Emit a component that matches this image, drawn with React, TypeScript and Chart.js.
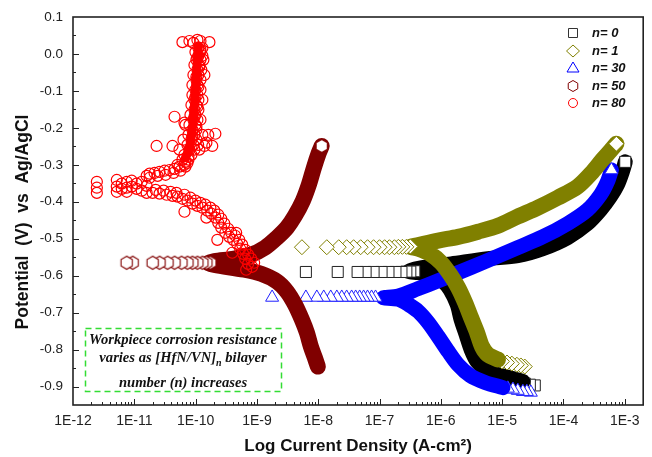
import { useEffect, useRef } from 'react';
import { Chart, registerables } from 'chart.js';
Chart.register(...registerables);

type Pt = [number, number];

// ---------------- data (current density A/cm2, potential V) ----------------
const seriesLabels = ['n= 0', 'n= 1', 'n= 30', 'n= 50', 'n= 80'];
const seriesColors = ['#000000', '#808000', '#0000ff', '#800000', '#ff0000'];
const xTickLabels = ['1E-12', '1E-11', '1E-10', '1E-9', '1E-8', '1E-7', '1E-6', '1E-5', '1E-4', '1E-3'];
const yTickLabels = ['-0.9', '-0.8', '-0.7', '-0.6', '-0.5', '-0.4', '-0.3', '-0.2', '-0.1', '0.0', '0.1'];
const xTitle = 'Log Current Density (A-cm\u00B2)';
const yTitle = 'Potential  (V)  vs  Ag/AgCl';
const noteLine1 = 'Workpiece corrosion resistance';
const noteLine2a = 'varies as [HfN/VN]';
const noteLine2sub = 'n';
const noteLine2b = ' bilayer';
const noteLine3 = 'number (n) increases';

// n = 0
const n0CathodicEnd: Pt[] = [[3.41e-5, -0.897], [2.83e-5, -0.895], [2.34e-5, -0.892], [1.95e-5, -0.889], [1.61e-5, -0.884]];
const n0Band: Pt[] = [
  [2.18e-5, -0.886], [1.34e-5, -0.876], [8.55e-6, -0.868], [5.46e-6, -0.854], [3.90e-6, -0.832], [3.12e-6, -0.800],
  [2.58e-6, -0.759], [2.14e-6, -0.719], [1.85e-6, -0.678], [1.42e-6, -0.638], [1.09e-6, -0.616], [7.53e-7, -0.600],
  [4.30e-7, -0.592], [2.96e-7, -0.588], [4.30e-7, -0.580], [1.48e-6, -0.568], [5.88e-6, -0.554], [1.80e-5, -0.546],
  [4.59e-5, -0.527], [1.17e-4, -0.497], [2.47e-4, -0.459], [4.02e-4, -0.422], [5.84e-4, -0.386], [7.59e-4, -0.354],
  [9.14e-4, -0.319], [1.02e-3, -0.292],
];
const n0Markers: Pt[] = [
  [3.70e-7, -0.588], [3.18e-7, -0.589], [2.74e-7, -0.589], [2.28e-7, -0.590], [1.82e-7, -0.590], [1.40e-7, -0.590],
  [1.08e-7, -0.590], [8.00e-8, -0.590], [5.93e-8, -0.590], [4.39e-8, -0.590], [2.08e-8, -0.590], [6.29e-9, -0.590],
  [1.02e-3, -0.292],
];

// n = 1
const n1CathodicEnd: Pt[] = [[2.34e-5, -0.846], [2.02e-5, -0.843], [1.74e-5, -0.841], [1.44e-5, -0.838], [1.20e-5, -0.835], [9.93e-6, -0.832]];
const n1Band: Pt[] = [
  [8.55e-6, -0.827], [5.88e-6, -0.814], [4.70e-6, -0.792], [3.90e-6, -0.754], [3.12e-6, -0.714], [2.49e-6, -0.673],
  [1.91e-6, -0.632], [1.42e-6, -0.597], [1.01e-6, -0.565], [6.73e-7, -0.541], [4.30e-7, -0.527], [3.18e-7, -0.522],
  [4.30e-7, -0.517], [9.07e-7, -0.505], [1.91e-6, -0.495], [4.05e-6, -0.481], [8.55e-6, -0.465], [1.80e-5, -0.440],
  [3.81e-5, -0.416], [8.05e-5, -0.389], [1.70e-4, -0.359], [2.98e-4, -0.319], [4.33e-4, -0.286], [5.84e-4, -0.262],
  [7.31e-4, -0.243],
];
const n1Markers: Pt[] = [
  [3.18e-7, -0.521], [2.74e-7, -0.522], [2.36e-7, -0.522], [2.03e-7, -0.522], [1.75e-7, -0.523], [1.45e-7, -0.523],
  [1.21e-7, -0.523], [1.00e-7, -0.523], [8.00e-8, -0.523], [6.38e-8, -0.523], [4.92e-8, -0.523], [3.78e-8, -0.523],
  [2.91e-8, -0.523], [2.16e-8, -0.523], [1.38e-8, -0.523], [5.42e-9, -0.523], [7.31e-4, -0.243],
];

// n = 30
const n30CathodicEnd: Pt[] = [[2.94e-5, -0.916], [2.53e-5, -0.914], [2.18e-5, -0.914], [1.80e-5, -0.911], [1.50e-5, -0.908], [1.24e-5, -0.905]];
const n30Band: Pt[] = [
  [1.03e-5, -0.903], [5.26e-6, -0.889], [3.00e-6, -0.870], [1.91e-6, -0.841], [1.32e-6, -0.805], [9.07e-7, -0.765],
  [6.24e-7, -0.727], [4.30e-7, -0.697], [2.96e-7, -0.678], [2.03e-7, -0.664], [1.16e-7, -0.660], [2.03e-7, -0.655],
  [4.30e-7, -0.635], [9.07e-7, -0.614], [1.91e-6, -0.592], [5.26e-6, -0.562], [1.80e-5, -0.524], [4.59e-5, -0.495],
  [1.17e-4, -0.459], [2.47e-4, -0.422], [4.02e-4, -0.381], [5.22e-4, -0.346], [6.06e-4, -0.314],
];
const n30Markers: Pt[] = [
  [8.61e-8, -0.659], [7.42e-8, -0.659], [6.38e-8, -0.659], [5.50e-8, -0.659], [4.74e-8, -0.659], [4.08e-8, -0.659],
  [3.51e-8, -0.659], [2.91e-8, -0.659], [2.42e-8, -0.659], [2.01e-8, -0.659], [1.60e-8, -0.659], [1.23e-8, -0.659],
  [9.49e-9, -0.659], [6.29e-9, -0.659], [1.77e-9, -0.659], [6.06e-4, -0.314],
];

// n = 50
const n50Band: Pt[] = [
  [9.86e-9, -0.846], [8.81e-9, -0.822], [7.59e-9, -0.792], [6.53e-9, -0.754], [5.42e-9, -0.719], [4.17e-9, -0.678],
  [3.09e-9, -0.643], [2.13e-9, -0.616], [1.17e-9, -0.595], [6.20e-10, -0.584], [2.02e-10, -0.571], [1.60e-10, -0.566],
  [2.02e-10, -0.561], [4.27e-10, -0.554], [8.05e-10, -0.543], [1.36e-9, -0.524], [2.13e-9, -0.497], [3.09e-9, -0.470],
  [4.17e-9, -0.438], [5.62e-9, -0.397], [7.03e-9, -0.354], [8.49e-9, -0.308], [1.02e-8, -0.268], [1.14e-8, -0.249],
];
const n50Markers: Pt[] = [
  [1.74e-10, -0.565], [1.50e-10, -0.565], [1.29e-10, -0.565], [1.07e-10, -0.565], [8.87e-11, -0.565], [7.36e-11, -0.565],
  [5.88e-11, -0.565], [4.53e-11, -0.565], [3.48e-11, -0.565], [2.58e-11, -0.565], [1.99e-11, -0.565], [9.40e-12, -0.565],
  [7.50e-12, -0.565], [1.14e-8, -0.249],
];

// n = 80
const n80Column: Pt[] = [
  [1.11e-10, 0.022], [1.07e-10, -0.016], [1.03e-10, -0.057], [9.93e-11, -0.097], [9.57e-11, -0.138],
  [9.21e-11, -0.178], [8.55e-11, -0.219], [7.93e-11, -0.254], [6.82e-11, -0.281],
];
const n80Cathodic: Pt[] = [
  [6.68e-10, -0.584], [9.01e-10, -0.565], [8.36e-10, -0.576], [8.05e-10, -0.554], [7.19e-10, -0.568], [7.19e-10, -0.543],
  [3.96e-10, -0.538], [6.43e-10, -0.554], [6.43e-10, -0.530], [5.97e-10, -0.541], [5.75e-10, -0.516], [5.33e-10, -0.527],
  [5.14e-10, -0.503], [4.77e-10, -0.514], [2.26e-10, -0.503], [4.11e-10, -0.503], [4.43e-10, -0.492], [3.54e-10, -0.495],
  [3.81e-10, -0.484], [4.59e-10, -0.484], [3.05e-10, -0.484], [3.40e-10, -0.473], [2.62e-10, -0.470], [2.94e-10, -0.459],
  [2.34e-10, -0.457], [2.62e-10, -0.446], [1.50e-10, -0.443], [2.10e-10, -0.443], [2.34e-10, -0.435], [1.80e-10, -0.432],
  [2.02e-10, -0.424], [6.58e-11, -0.427], [1.55e-10, -0.424], [1.74e-10, -0.416], [1.29e-10, -0.416], [1.44e-10, -0.408],
  [1.07e-10, -0.411], [1.20e-10, -0.403], [8.87e-11, -0.405], [9.93e-11, -0.397], [7.36e-11, -0.397], [8.24e-11, -0.389],
  [6.10e-11, -0.392], [6.58e-11, -0.381], [5.07e-11, -0.386], [4.88e-11, -0.376], [4.20e-11, -0.384], [3.90e-11, -0.373],
  [3.36e-11, -0.381], [3.00e-11, -0.370], [2.58e-11, -0.378], [2.23e-11, -0.368], [1.99e-11, -0.376],
];
const n80Points: Pt[] = [
  // low potential cluster
  [1.59e-11, -0.376], [1.59e-11, -0.357], [1.32e-11, -0.370], [1.32e-11, -0.346], [1.09e-11, -0.365], [1.09e-11, -0.351],
  [9.07e-12, -0.359], [9.07e-12, -0.343], [7.53e-12, -0.373], [7.53e-12, -0.362], [7.53e-12, -0.346], [6.24e-12, -0.365],
  [6.24e-12, -0.351], [5.18e-12, -0.373], [5.18e-12, -0.359], [5.18e-12, -0.341], [2.45e-12, -0.376], [2.45e-12, -0.362],
  [2.45e-12, -0.346],
  // bend
  [1.78e-11, -0.335], [1.59e-11, -0.330], [2.40e-11, -0.330], [1.78e-11, -0.324], [3.24e-11, -0.327], [2.14e-11, -0.322],
  [4.36e-11, -0.322], [2.58e-11, -0.319], [3.12e-11, -0.316], [5.66e-11, -0.316], [3.76e-11, -0.314], [4.53e-11, -0.311],
  [5.46e-11, -0.305], [6.82e-11, -0.305], [7.36e-11, -0.295],
  // anodic column
  [5.07e-11, -0.300], [6.58e-11, -0.300], [6.82e-11, -0.292], [6.10e-11, -0.286], [7.64e-11, -0.286], [7.64e-11, -0.278],
  [6.58e-11, -0.273], [8.55e-11, -0.273], [5.46e-11, -0.259], [7.93e-11, -0.259], [9.57e-11, -0.259], [1.15e-10, -0.259],
  [8.55e-11, -0.251], [7.36e-11, -0.246], [9.21e-11, -0.246], [6.34e-11, -0.232], [8.55e-11, -0.232], [1.03e-10, -0.232],
  [8.87e-11, -0.224], [7.64e-11, -0.219], [9.57e-11, -0.219], [8.87e-11, -0.205], [1.03e-10, -0.205], [1.03e-10, -0.197],
  [6.82e-11, -0.192], [7.93e-11, -0.192], [9.93e-11, -0.192], [9.21e-11, -0.178], [1.07e-10, -0.178], [1.20e-10, -0.178],
  [9.57e-11, -0.170], [8.24e-11, -0.165], [9.93e-11, -0.165], [9.57e-11, -0.151], [1.11e-10, -0.151], [1.07e-10, -0.143],
  [8.55e-11, -0.138], [1.03e-10, -0.138], [9.57e-11, -0.124], [1.11e-10, -0.124], [1.29e-10, -0.124], [9.93e-11, -0.116],
  [8.87e-11, -0.111], [1.07e-10, -0.111], [9.93e-11, -0.097], [1.20e-10, -0.097], [1.11e-10, -0.089], [8.87e-11, -0.084],
  [1.07e-10, -0.084], [1.03e-10, -0.070], [1.20e-10, -0.070], [1.03e-10, -0.062], [9.21e-11, -0.057], [1.11e-10, -0.057],
  [1.39e-10, -0.057], [1.07e-10, -0.043], [1.24e-10, -0.043], [1.15e-10, -0.035], [9.57e-11, -0.030], [1.15e-10, -0.030],
  [1.03e-10, -0.016], [1.20e-10, -0.016], [1.34e-10, -0.016], [1.07e-10, -0.011], [1.11e-10, -0.005], [1.29e-10, -0.005],
  [9.93e-11, 0.005], [1.20e-10, 0.005], [1.20e-10, 0.011], [1.11e-10, 0.016], [1.29e-10, 0.016],
  // scattered points
  [4.53e-11, -0.170], [6.58e-11, -0.186], [1.29e-10, -0.219], [1.61e-10, -0.219], [2.10e-10, -0.216], [1.87e-10, -0.249],
  [2.31e-11, -0.249], [4.20e-11, -0.249], [1.39e-10, -0.249], [1.10e-10, -0.246], [1.50e-10, -0.240],
  // top
  [6.10e-11, 0.032], [7.93e-11, 0.035], [9.21e-11, 0.030], [1.07e-10, 0.038], [1.20e-10, 0.035], [1.68e-10, 0.032],
];

// ---------------- helpers ----------------
function hexPath(g: CanvasRenderingContext2D, cx: number, cy: number, r: number) {
  g.beginPath();
  for (let i = 0; i < 6; i++) {
    const a = Math.PI / 2 + (i * Math.PI) / 3;
    const px = cx + r * Math.cos(a);
    const py = cy - r * Math.sin(a);
    if (i === 0) g.moveTo(px, py);
    else g.lineTo(px, py);
  }
  g.closePath();
}

function makeHexagon(color: string, r: number, fill: string) {
  const c = document.createElement('canvas');
  const s = Math.ceil(r * 2 + 3);
  c.width = s;
  c.height = s;
  const g = c.getContext('2d')!;
  hexPath(g, s / 2, s / 2, r);
  g.fillStyle = fill;
  g.fill();
  g.strokeStyle = color;
  g.lineWidth = 1.1;
  g.stroke();
  return c;
}

const decorPlugin = {
  id: 'decor',
  afterDraw(chart: any) {
    const { ctx, chartArea: a } = chart;
    const x = chart.scales.x;
    const y = chart.scales.y;
    ctx.save();
    // frame
    ctx.strokeStyle = '#222';
    ctx.lineWidth = 1.6;
    ctx.strokeRect(a.left, a.top, a.right - a.left, a.bottom - a.top);
    // ticks
    ctx.lineWidth = 1;
    ctx.strokeStyle = '#222';
    x.ticks.forEach((t: any) => {
      const v = t.value;
      const e = Math.floor(Math.log10(v) + 1e-9);
      const m = v / Math.pow(10, e);
      if (Math.abs(m - Math.round(m)) > 1e-6) return;
      const major = Math.round(m) === 1 || Math.round(m) === 10;
      const px = Math.round(x.getPixelForValue(v)) + 0.5;
      if (px < a.left + 1 || px > a.right - 1) return;
      ctx.beginPath();
      ctx.moveTo(px, a.bottom);
      ctx.lineTo(px, a.bottom - (major ? 6 : 3));
      ctx.stroke();
    });
    y.ticks.forEach((t: any) => {
      const v = t.value;
      const major = Math.round(v * 100) % 10 === 0;
      const py = Math.round(y.getPixelForValue(v)) + 0.5;
      if (py < a.top + 1 || py > a.bottom - 1) return;
      ctx.beginPath();
      ctx.moveTo(a.left, py);
      ctx.lineTo(a.left + (major ? 6 : 3), py);
      ctx.stroke();
    });
    // axis titles
    ctx.fillStyle = '#111';
    ctx.font = 'bold 17px "Liberation Sans", Arial, sans-serif';
    ctx.textAlign = 'center';
    ctx.textBaseline = 'alphabetic';
    ctx.fillText(xTitle, (a.left + a.right) / 2, 451);
    ctx.save();
    ctx.translate(28, 222);
    ctx.rotate(-Math.PI / 2);
    ctx.font = 'bold 17.5px "Liberation Sans", Arial, sans-serif';
    ctx.fillText(yTitle, 0, 0);
    ctx.restore();

    // legend
    const lx = 573;
    const rows = [33, 51, 68, 86, 103];
    ctx.lineWidth = 1;
    rows.forEach((ry, i) => {
      ctx.strokeStyle = seriesColors[i] === '#000000' ? '#333' : seriesColors[i];
      ctx.beginPath();
      if (i === 0) ctx.rect(lx - 4.5, ry - 4.5, 9, 9);
      else if (i === 1) {
        ctx.moveTo(lx, ry - 6); ctx.lineTo(lx + 6.5, ry); ctx.lineTo(lx, ry + 6); ctx.lineTo(lx - 6.5, ry); ctx.closePath();
      } else if (i === 2) {
        ctx.moveTo(lx, ry - 6); ctx.lineTo(lx + 6, ry + 4); ctx.lineTo(lx - 6, ry + 4); ctx.closePath();
      } else if (i === 3) {
        hexPath(ctx, lx, ry, 5.5);
      } else {
        ctx.arc(lx, ry, 4.5, 0, Math.PI * 2);
      }
      ctx.stroke();
      ctx.fillStyle = '#111';
      ctx.font = 'italic bold 13px "Liberation Sans", Arial, sans-serif';
      ctx.textAlign = 'left';
      ctx.textBaseline = 'middle';
      ctx.fillText(seriesLabels[i], 592, ry);
    });

    // annotation box
    ctx.strokeStyle = '#33dd33';
    ctx.lineWidth = 1.5;
    ctx.setLineDash([6, 4]);
    ctx.strokeRect(85.5, 328.5, 196, 63);
    ctx.setLineDash([]);
    ctx.fillStyle = '#111';
    const cx = 183;
    const fMain = 'italic bold 14.6px "Liberation Serif", "Times New Roman", serif';
    const fSub = 'italic bold 10px "Liberation Serif", "Times New Roman", serif';
    ctx.font = fMain;
    ctx.textAlign = 'center';
    ctx.textBaseline = 'alphabetic';
    ctx.fillText(noteLine1, cx, 344);
    ctx.fillText(noteLine3, cx, 387);
    const w1 = ctx.measureText(noteLine2a).width;
    const w3 = ctx.measureText(noteLine2b).width;
    ctx.font = fSub;
    const w2 = ctx.measureText(noteLine2sub).width;
    let sx = cx - (w1 + w2 + w3) / 2;
    ctx.textAlign = 'left';
    ctx.font = fMain;
    ctx.fillText(noteLine2a, sx, 362);
    sx += w1;
    ctx.font = fSub;
    ctx.fillText(noteLine2sub, sx, 366);
    sx += w2;
    ctx.font = fMain;
    ctx.fillText(noteLine2b, sx, 362);
    ctx.restore();
  },
};

export default function App() {
  const ref = useRef<HTMLCanvasElement>(null);
  useEffect(() => {
    document.body.style.margin = '0';
    const canvas = ref.current!;
    const hexWhite = makeHexagon('#800000', 6.5, '#ffffff');
    const xy = (arr: Pt[]) => arr.map(([px, py]) => ({ x: px, y: py }));
    const band = (data: Pt[], color: string, width: number) => ({
      data: xy(data),
      showLine: true,
      borderColor: color,
      borderWidth: width,
      pointRadius: 0,
      tension: 0.3,
      borderJoinStyle: 'round',
      borderCapStyle: 'round',
      fill: false,
    });
    const marks = (data: Pt[], color: string, style: any, radius: number, fillColor: string, bw = 1) => ({
      data: xy(data),
      showLine: false,
      pointStyle: style,
      pointRadius: radius,
      pointBorderColor: color,
      pointBackgroundColor: fillColor,
      pointBorderWidth: bw,
    });
    const clear = 'rgba(255,255,255,0)';
    const datasets: any[] = [
      marks(n80Points, '#ff0000', 'circle', 5.5, clear, 1.2),
      marks(n80Cathodic, '#ff0000', 'circle', 5.5, clear, 1.2),
      band(n80Column, '#ff0000', 9),
      marks(n50Markers, '#800000', hexWhite, 6.5, '#ffffff'),
      band(n50Band, '#800000', 16),
      marks(n1Markers, '#808000', 'rectRot', 7.5, '#ffffff'),
      band(n1Band, '#808000', 16),
      marks(n1CathodicEnd, '#808000', 'rectRot', 7.5, '#ffffff'),
      marks(n30Markers, '#2020ff', 'triangle', 7.5, '#ffffff'),
      band(n30Band, '#0000ff', 15),
      marks(n30CathodicEnd, '#2020ff', 'triangle', 7.5, '#ffffff'),
      marks(n0Markers, '#222222', 'rect', 7.8, '#ffffff'),
      band(n0Band, '#000000', 15),
      marks(n0CathodicEnd, '#222222', 'rect', 7.8, '#ffffff'),
    ];
    const chart = new Chart(canvas, {
      type: 'scatter',
      data: { datasets },
      options: {
        responsive: false,
        animation: false,
        devicePixelRatio: 1,
        events: [],
        layout: { padding: { top: 17, right: 7, left: 0, bottom: 0 } },
        plugins: { legend: { display: false }, tooltip: { enabled: false } },
        scales: {
          x: {
            type: 'logarithmic',
            min: 1e-12,
            max: 2e-3,
            grid: { display: false, drawTicks: false },
            border: { display: false },
            ticks: {
              autoSkip: false,
              maxRotation: 0,
              padding: 8,
              color: '#222',
              font: { family: '"Liberation Sans", Arial, sans-serif', size: 14 },
              callback: (v: any) => {
                const l = Math.log10(Number(v));
                if (Math.abs(l - Math.round(l)) > 1e-6) return '';
                const idx = Math.round(l) + 12;
                return xTickLabels[idx] ?? '';
              },
            },
            afterFit: (s: any) => {
              s.height = 52;
              s.paddingLeft = 0;
              s.paddingRight = 0;
            },
          },
          y: {
            type: 'linear',
            min: -0.95,
            max: 0.1,
            grid: { display: false, drawTicks: false },
            border: { display: false },
            ticks: {
              stepSize: 0.05,
              autoSkip: false,
              padding: 10,
              color: '#222',
              font: { family: '"Liberation Sans", Arial, sans-serif', size: 13.5 },
              callback: (v: any) => {
                const k = Math.round(Number(v) * 100);
                if (k % 10 !== 0) return '';
                const idx = Math.round((k + 90) / 10);
                return yTickLabels[idx] ?? '';
              },
            },
            afterFit: (s: any) => {
              s.width = 73;
              s.paddingTop = 0;
              s.paddingBottom = 0;
            },
          },
        },
      } as any,
      plugins: [decorPlugin],
    });
    return () => chart.destroy();
  }, []);
  return (
    <div style={{ position: 'absolute', left: 0, top: 0, width: 652, height: 457, background: '#ffffff' }}>
      <canvas ref={ref} width={652} height={457} style={{ display: 'block', width: 652, height: 457 }} />
    </div>
  );
}
